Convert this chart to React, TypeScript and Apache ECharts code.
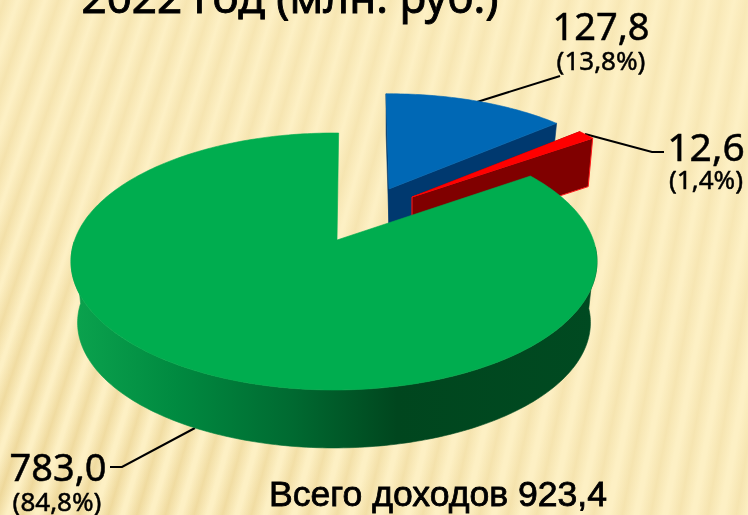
import React, { useEffect, useRef } from "react";
import * as echarts from "echarts";

const categories = ["Налоговые доходы", "Неналоговые доходы", "Безвозмездные поступления"];
const values = [127.8, 12.6, 783.0];
const percents = ["13,8", "1,4", "84,8"];
const total = 923.4;
const titleText = "2022 год (млн. руб.)";
const totalLabel = "Всего доходов";

const fmt = (n: number) => n.toFixed(1).replace(".", ",");

// projection of the pie's plane (perspective)
const P = 0.1673, A = 124.9, B = 259.3, LOWER = 0.975;
type Geo = { cx: number; cy: number; ax: number; rx: number; ry: number; rot: number; depth: number; top: string; wall: any };
const GREEN_WALL = new echarts.graphic.LinearGradient(0, 0, 1, 0, [
  { offset: 0, color: "#0BA34E" },
  { offset: 0.2, color: "#008A40" },
  { offset: 0.42, color: "#006A31" },
  { offset: 0.62, color: "#00461E" },
  { offset: 1, color: "#004A21" },
]);
const geos: Geo[] = [
  { cx: 389, cy: 189, ax: 389, rx: 0.95, ry: 0.89, rot: -0.8, depth: 38, top: "#0068B5", wall: "#00396F" },
  { cx: 412, cy: 197, ax: 412, rx: 0.92, ry: 0.92, rot: 1.2, depth: 47, top: "#FF0000", wall: "#800000" },
  { cx: 334, cy: 240, ax: 337, rx: 1, ry: 1, rot: 1.2, depth: 61.7, top: "#00AD4F", wall: GREEN_WALL },
];

function proj(deg: number, g: Geo, lower = false): number[] {
  const t = ((deg + g.rot) * Math.PI) / 180;
  const u = Math.sin(t), v = Math.cos(t);
  const s = 1 / (1 + P * v);
  const k = lower ? LOWER : 1;
  return [g.cx + k * g.rx * B * u * s, g.cy + (lower ? g.depth : 0) - k * g.ry * A * v * s];
}
function arc(a: number, b: number, g: Geo, lower = false): number[][] {
  const pts: number[][] = [];
  const n = Math.max(2, Math.ceil(Math.abs(b - a)));
  for (let i = 0; i <= n; i++) pts.push(proj(a + ((b - a) * i) / n, g, lower));
  return pts;
}

const sum = values.reduce((x, y) => x + y, 0);
const startAngles: number[] = [];
values.reduce((acc, v, i) => {
  startAngles[i] = (acc / sum) * 360;
  return acc + v;
}, 0);

function renderSlice(_p: any, api: any) {
  const i = api.value(0) as number;
  const val = api.value(1) as number;
  const a0 = startAngles[i];
  const a1 = a0 + (val / sum) * 360;
  const g = geos[i];
  const apex = [g.ax, g.cy];
  const apexLow = [g.ax, g.cy + g.depth];
  const children: any[] = [];
  const poly = (points: number[][], fill: any, stroke?: string, lw = 0) => ({
    type: "polygon",
    shape: { points },
    style: { fill, stroke: stroke || fill, lineWidth: lw || 0.6 },
  });
  if (a1 - a0 > 180) {
    const top = arc(92, 268, g);
    const bot = arc(268, 92, g, true);
    children.push(poly([...top, ...bot], g.wall));
  } else {
    children.push(poly([apex, proj(a0, g), proj(a0, g, true), apexLow], g.wall));
    const outline = i === 1 ? "#FF1A1A" : undefined;
    children.push(poly([apex, proj(a1, g), proj(a1, g, true), apexLow], g.wall, outline, outline ? 1 : 0));
  }
  children.push(poly([apex, ...arc(a0, a1, g)], g.top));
  return { type: "group", children };
}

function backgroundElements() {
  const els: any[] = [];
  els.push({ type: "rect", z: -30, shape: { x: 0, y: 0, width: 748, height: 515 }, style: { fill: "#FDF0C4" } });
  const L = 760;
  for (let x = -84; x < 800; x += 27) {
    const lean = 19 - (9 * Math.max(0, x)) / 748;
    els.push({
      type: "rect",
      z: -29,
      x,
      y: 257,
      rotation: (-lean * Math.PI) / 180,
      shape: { x: -12, y: -L / 2, width: 24, height: L },
      style: {
        fill: new echarts.graphic.LinearGradient(0, 0, 1, 0, [
          { offset: 0, color: "rgba(222,190,110,0)" },
          { offset: 0.5, color: "rgba(222,190,110,0.5)" },
          { offset: 1, color: "rgba(222,190,110,0)" },
        ]),
      },
    });
  }
  els.push({
    type: "rect",
    z: -28,
    shape: { x: 0, y: 0, width: 748, height: 515 },
    style: {
      fill: new echarts.graphic.LinearGradient(0, 1, 1, 0, [
        { offset: 0, color: "rgba(253,240,196,0)" },
        { offset: 0.4, color: "rgba(253,240,196,0.5)" },
        { offset: 1, color: "rgba(253,240,196,0.7)" },
      ]),
    },
  });
  return els;
}

const FONT = "'Noto Sans', sans-serif";
const text = (t: string, x: number, y: number, size: number, align = "center", family = FONT, lw = 0.5) => ({
  type: "text",
  z: 5,
  x,
  y,
  style: {
    text: t,
    fill: "#000",
    stroke: "#000",
    lineWidth: lw,
    font: `${size}px ${family}`,
    textAlign: align,
    textVerticalAlign: "middle",
  },
});
const leader = (points: number[][]) => ({
  type: "polyline",
  z: 5,
  shape: { points },
  style: { stroke: "#000", lineWidth: 2, fill: "none" },
});

export default function App() {
  const ref = useRef<HTMLDivElement>(null);
  useEffect(() => {
    const chart = echarts.init(ref.current!, undefined, { renderer: "svg" });
    chart.setOption({
      animation: false,
      graphic: {
        elements: [
          ...backgroundElements(),
          text(titleText, 290, -4, 44, "center", FONT, 0.9),
          text(fmt(values[0]), 601, 25, 38),
          text(`(${percents[0]}%)`, 601, 60, 26),
          text(fmt(values[1]), 706, 145, 39),
          text(`(${percents[1]}%)`, 706, 179, 26),
          text(fmt(values[2]), 58, 466, 38),
          text(`(${percents[2]}%)`, 57, 501, 26),
          text(`${totalLabel} ${fmt(total)}`, 438, 494, 35.6, "center", "'Liberation Sans', sans-serif", 0.8),
          leader([[477, 102], [560, 76]]),
          leader([[585, 134], [652, 152], [664, 152]]),
          leader([[195, 428], [122, 467], [110, 467]]),
        ],
      },
      series: [
        {
          type: "custom",
          coordinateSystem: "none",
          silent: true,
          z: 10,
          renderItem: renderSlice,
          data: values.map((v, i) => ({ name: categories[i], value: [i, v] })),
        },
      ],
    });
    return () => chart.dispose();
  }, []);
  return <div ref={ref} style={{ position: "fixed", left: 0, top: 0, width: 748, height: 515 }} />;
}
